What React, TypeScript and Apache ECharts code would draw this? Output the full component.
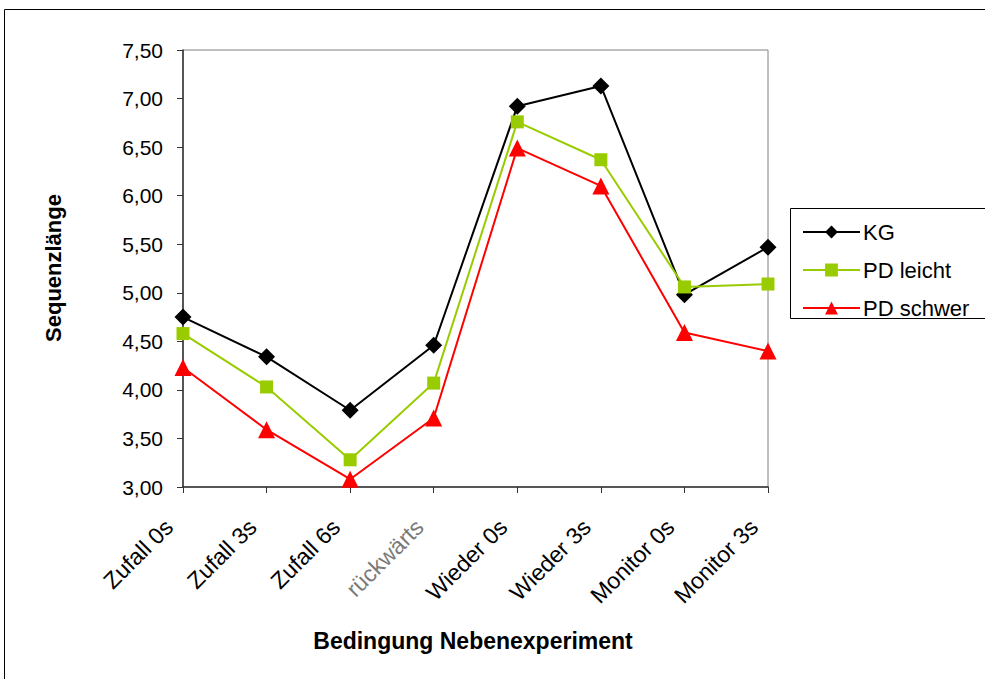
import React, { useEffect, useRef } from "react";
import * as echarts from "echarts";

const categories = [
  "Zufall 0s",
  "Zufall 3s",
  "Zufall 6s",
  "rückwärts",
  "Wieder 0s",
  "Wieder 3s",
  "Monitor 0s",
  "Monitor 3s",
];
const kg = [4.75, 4.34, 3.79, 4.46, 6.92, 7.13, 4.98, 5.47];
const pdLeicht = [4.58, 4.03, 3.28, 4.07, 6.76, 6.37, 5.06, 5.09];
const pdSchwer = [4.23, 3.59, 3.08, 3.71, 6.49, 6.1, 4.59, 4.4];
const yTicks = { min: 3, max: 7.5, interval: 0.5 };

const FONT = "'Liberation Sans', Arial, sans-serif";

export default function App() {
  const ref = useRef<HTMLDivElement>(null);

  useEffect(() => {
    if (!ref.current) return;
    const chart = echarts.init(ref.current, null, { renderer: "svg" });
    chart.setOption({
      animation: false,
      backgroundColor: "#ffffff",
      textStyle: { fontFamily: FONT },
      grid: {
        left: 183,
        right: 217,
        top: 50,
        bottom: 192,
        show: true,
        borderColor: "#808080",
        borderWidth: 1,
      },
      xAxis: {
        type: "category",
        data: categories,
        boundaryGap: false,
        axisLine: { lineStyle: { color: "#333333", width: 1.5 } },
        axisTick: { length: 6, lineStyle: { color: "#333333" } },
        axisLabel: {
          rotate: 45,
          margin: 22,
          padding: [0, 20, 0, 0],
          fontSize: 23,
          fontFamily: FONT,
          color: (_v: string, i: number) => (i === 3 ? "#7a7a7a" : "#000000"),
          interval: 0,
        },
        splitLine: { show: false },
      },
      yAxis: {
        type: "value",
        min: yTicks.min,
        max: yTicks.max,
        interval: yTicks.interval,
        axisLine: { show: true, lineStyle: { color: "#333333", width: 1.5 } },
        axisTick: { show: true, length: 6, lineStyle: { color: "#333333" } },
        axisLabel: {
          fontSize: 21,
          fontFamily: FONT,
          color: "#000000",
          margin: 20,
          formatter: (v: number) => v.toFixed(2).replace(".", ","),
        },
        splitLine: { show: false },
      },
      legend: {
        orient: "vertical",
        left: 797,
        top: 216,
        itemWidth: 57,
        itemHeight: 16,
        itemGap: 16,
        textStyle: { fontSize: 22, fontFamily: FONT, color: "#000000", padding: [0, 0, 0, -2] },
        data: ["KG", "PD leicht", "PD schwer"],
      },
      graphic: [
        {
          type: "rect",
          shape: { x: 4.5, y: 9.5, width: 1000, height: 700 },
          style: { fill: "none", stroke: "#000000", lineWidth: 1 },
          silent: true,
          z: -10,
        },
        {
          type: "rect",
          shape: { x: 790.5, y: 208.5, width: 220, height: 110 },
          style: { fill: "#ffffff", stroke: "#000000", lineWidth: 1 },
          silent: true,
          z: -5,
        },
        {
          type: "text",
          x: 53,
          y: 268,
          rotation: Math.PI / 2,
          style: {
            text: "Sequenzlänge",
            font: `bold 22px ${FONT}`,
            fill: "#000000",
            align: "center",
            verticalAlign: "middle",
          },
        },
        {
          type: "text",
          x: 473,
          y: 641,
          style: {
            text: "Bedingung Nebenexperiment",
            font: `bold 23px ${FONT}`,
            fill: "#000000",
            align: "center",
            verticalAlign: "middle",
          },
        },
      ],
      series: [
        {
          name: "KG",
          type: "line",
          data: kg,
          symbol: "diamond",
          symbolSize: 17,
          itemStyle: { color: "#000000" },
          lineStyle: { color: "#000000", width: 2 },
          z: 3,
        },
        {
          name: "PD leicht",
          type: "line",
          data: pdLeicht,
          symbol: "rect",
          symbolSize: 13,
          itemStyle: { color: "#99cc00" },
          lineStyle: { color: "#99cc00", width: 2 },
          z: 4,
        },
        {
          name: "PD schwer",
          type: "line",
          data: pdSchwer,
          symbol: "triangle",
          symbolSize: 17,
          itemStyle: { color: "#ff0000" },
          lineStyle: { color: "#ff0000", width: 2 },
          z: 5,
        },
      ],
    });
    return () => chart.dispose();
  }, []);

  return (
    <div
      ref={ref}
      style={{ position: "fixed", left: 0, top: 0, width: 985, height: 679 }}
    />
  );
}
